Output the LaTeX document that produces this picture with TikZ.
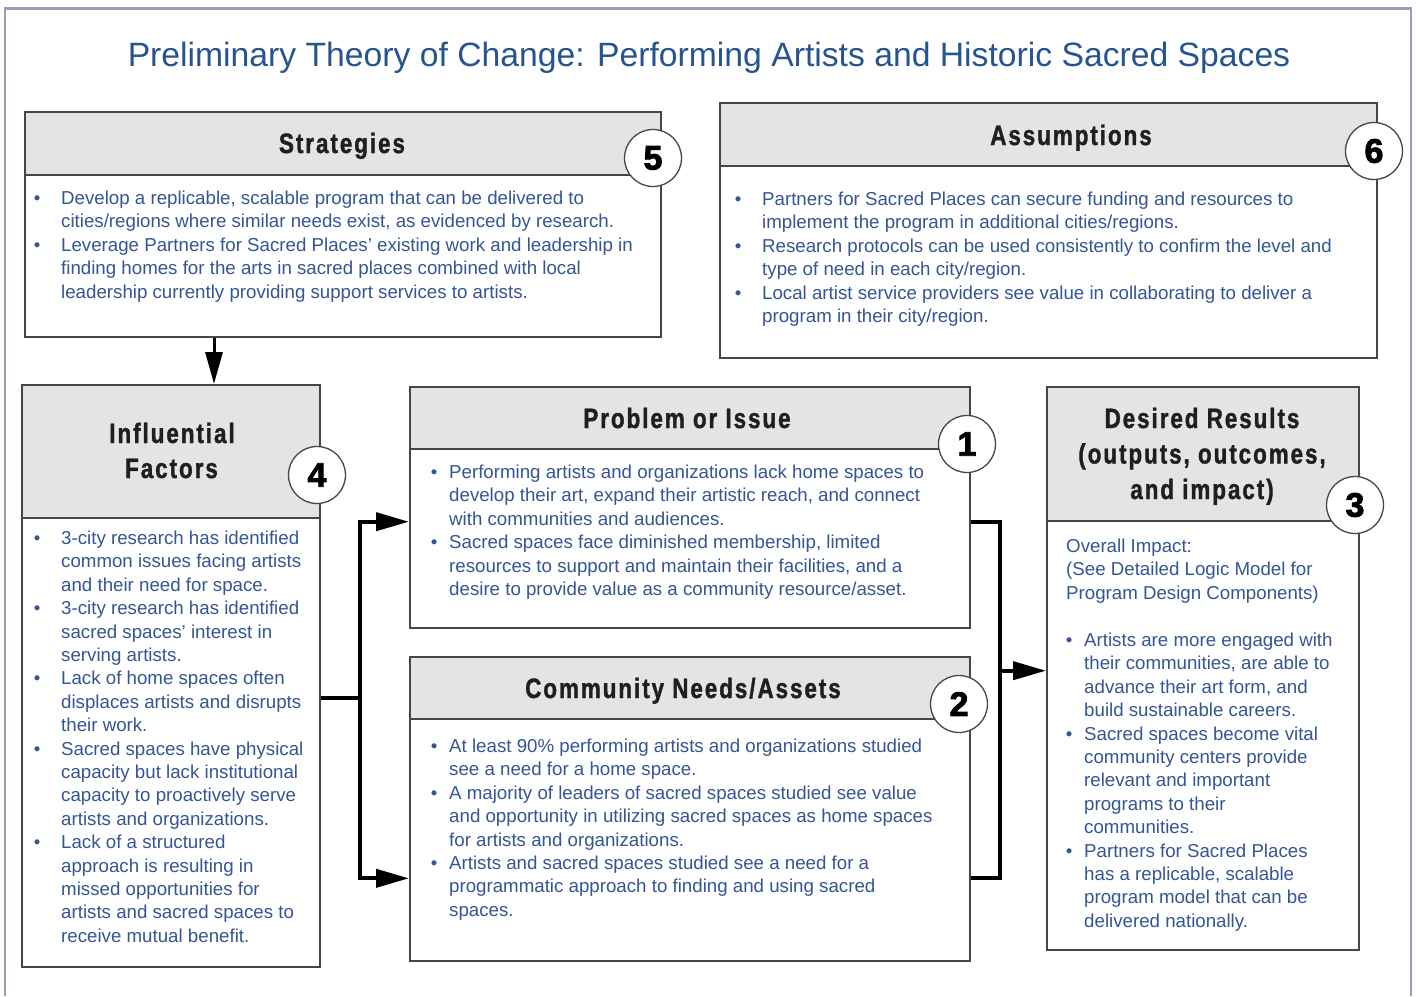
\documentclass[tikz,border=0pt]{standalone}
\usepackage{fontspec}
\setmainfont{Liberation Sans}
\newfontfamily\headfam[FakeStretch=0.8,LetterSpace=7,BoldFeatures={FakeBold=1.3}]{Liberation Sans}
\newfontfamily\numfam[BoldFeatures={FakeBold=2.5}]{Liberation Sans}
\usetikzlibrary{arrows.meta}
\definecolor{bodyblue}{RGB}{52,86,148}
\definecolor{titleblue}{RGB}{38,84,145}
\definecolor{boxgray}{RGB}{70,70,70}
\definecolor{headfill}{RGB}{228,228,228}
\definecolor{framec}{RGB}{168,150,185}
\definecolor{headtext}{RGB}{35,30,30}
\newcommand\bA{\llap{\textbullet\hspace{20.7pt}}}
\newcommand\bB{\llap{\textbullet\hspace{11.7pt}}}
\newcommand\tlines[4]{\foreach \myline [count=\i] in {#4}{\node[bodytxt] (#1\i) at (#2,{#3+(\i-1)*23.4}) {\myline};}}
\begin{document}
\begin{tikzpicture}[x=1pt,y=-1pt,
  box/.style={draw=boxgray,line width=2pt,fill=white,inner sep=0pt,anchor=north west},
  hbox/.style={draw=boxgray,line width=2pt,fill=headfill,inner sep=0pt,anchor=north west},
  headtxt/.style={anchor=base,inner sep=0pt,text=headtext,font=\headfam\bfseries\fontsize{28}{35}\selectfont},
  bodytxt/.style={anchor=base west,inner sep=0pt,text=bodyblue,font=\fontsize{18.7}{23.4}\selectfont},
  numc/.style={circle,draw=boxgray,line width=1.3pt,fill=white,minimum size=57pt,inner sep=0pt,text=black,font=\numfam\bfseries\fontsize{34}{34}\selectfont},
  line4/.style={line width=4pt,draw=black},
  tip4/.style={-{Triangle[length=33pt,width=18pt]}},
]
\useasboundingbox (0,0) rectangle (1416,996);
% outer frame
\draw[framec,line width=2.5pt] (5,996) -- (5,8.3) -- (1411,8.3) -- (1411,996);
% title
\node[anchor=base,inner sep=0pt,text=titleblue,font=\fontsize{33.7}{40}\selectfont] (title) at (709,66.7) {Preliminary Theory of Change: Performing Artists and Historic Sacred Spaces};

% boxes
\node[box,minimum width=636pt,minimum height=225pt] (strat) at (24,111) {};
\node[hbox,minimum width=636pt,minimum height=63pt] (strath) at (24,111) {};
\node[box,minimum width=657pt,minimum height=255pt] (assum) at (719,102) {};
\node[hbox,minimum width=657pt,minimum height=63pt] (assumh) at (719,102) {};
\node[box,minimum width=298pt,minimum height=582pt] (infl) at (21,384) {};
\node[hbox,minimum width=298pt,minimum height=133pt] (inflh) at (21,384) {};
\node[box,minimum width=560pt,minimum height=241pt] (prob) at (409,386) {};
\node[hbox,minimum width=560pt,minimum height=62pt] (probh) at (409,386) {};
\node[box,minimum width=560pt,minimum height=304pt] (comm) at (409,656) {};
\node[hbox,minimum width=560pt,minimum height=62pt] (commh) at (409,656) {};
\node[box,minimum width=312pt,minimum height=563pt] (des) at (1046,386) {};
\node[hbox,minimum width=312pt,minimum height=134pt] (desh) at (1046,386) {};

% header texts
\node[headtxt] (tstrat) at (342,153) {Strategies};
\node[headtxt] (tassum) at (1071,145) {Assumptions};
\node[headtxt] (tinfl1) at (172,443) {Influential};
\node[headtxt] (tinfl2) at (171.5,478) {Factors};
\node[headtxt] (tprob) at (687,428) {Problem or Issue};
\node[headtxt] (tcomm) at (683,698) {Community Needs/Assets};
\node[headtxt] (tdes1) at (1202,428) {Desired Results};
\node[headtxt] (tdes2) at (1202,463.5) {(outputs, outcomes,};
\node[headtxt] (tdes3) at (1202,499) {and impact)};

% body texts
\tlines{s}{61}{204.5}{{\bA Develop a replicable, scalable program that can be delivered to},
{cities/regions where similar needs exist, as evidenced by research.},
{\bA Leverage Partners for Sacred Places’ existing work and leadership in},
{finding homes for the arts in sacred places combined with local},
{leadership currently providing support services to artists.}}

\tlines{a}{762}{205.5}{{\bA Partners for Sacred Places can secure funding and resources to},
{implement the program in additional cities/regions.},
{\bA Research protocols can be used consistently to confirm the level and},
{type of need in each city/region.},
{\bA Local artist service providers see value in collaborating to deliver a},
{program in their city/region.}}

\tlines{f}{61}{544.5}{{\bA 3-city research has identified},
{common issues facing artists},
{and their need for space.},
{\bA 3-city research has identified},
{sacred spaces’ interest in},
{serving artists.},
{\bA Lack of home spaces often},
{displaces artists and disrupts},
{their work.},
{\bA Sacred spaces have physical},
{capacity but lack institutional},
{capacity to proactively serve},
{artists and organizations.},
{\bA Lack of a structured},
{approach is resulting in},
{missed opportunities for},
{artists and sacred spaces to},
{receive mutual benefit.}}

\tlines{p}{449}{478.5}{{\bB Performing artists and organizations lack home spaces to},
{develop their art, expand their artistic reach, and connect},
{with communities and audiences.},
{\bB Sacred spaces face diminished membership, limited},
{resources to support and maintain their facilities, and a},
{desire to provide value as a community resource/asset.}}

\tlines{c}{449}{752.5}{{\bB At least 90\% performing artists and organizations studied},
{see a need for a home space.},
{\bB A majority of leaders of sacred spaces studied see value},
{and opportunity in utilizing sacred spaces as home spaces},
{for artists and organizations.},
{\bB Artists and sacred spaces studied see a need for a},
{programmatic approach to finding and using sacred},
{spaces.}}

\tlines{d}{1066}{552.5}{{Overall Impact:},
{(See Detailed Logic Model for},
{Program Design Components)}}

\tlines{e}{1084}{646.5}{{\bB Artists are more engaged with},
{their communities, are able to},
{advance their art form, and},
{build sustainable careers.},
{\bB Sacred spaces become vital},
{community centers provide},
{relevant and important},
{programs to their},
{communities.},
{\bB Partners for Sacred Places},
{has a replicable, scalable},
{program model that can be},
{delivered nationally.}}

% number circles
\node[numc] (n5) at (653,158) {5};
\node[numc] (n6) at (1374,151) {6};
\node[numc] (n4) at (317,475) {4};
\node[numc] (n1) at (967,444) {1};
\node[numc] (n2) at (959,704) {2};
\node[numc] (n3) at (1355,505) {3};

% connectors
\draw[line width=3pt,-{Triangle[length=32pt,width=17pt]}] ([xshift=190pt]strat.south west) -- ([xshift=193pt]infl.north west);
\coordinate (jL) at (360,698.3);
\coordinate (pIn) at (409,521.7);
\coordinate (cIn) at (409,878.3);
\draw[line4] (infl.east |- jL) -- (jL);
\draw[line4,tip4] (jL) |- (prob.west |- pIn);
\draw[line4,tip4] (jL) |- (comm.west |- cIn);
\coordinate (rT) at (1000,522.3);
\coordinate (rB) at (1000,877.7);
\coordinate (rM) at (1000,670.7);
\draw[line4] (prob.east |- rT) -- (rT) -- (rB) -- (comm.east |- rB);
\draw[line4,tip4] (rM) -- (des.west |- rM);
\end{tikzpicture}
\end{document}
